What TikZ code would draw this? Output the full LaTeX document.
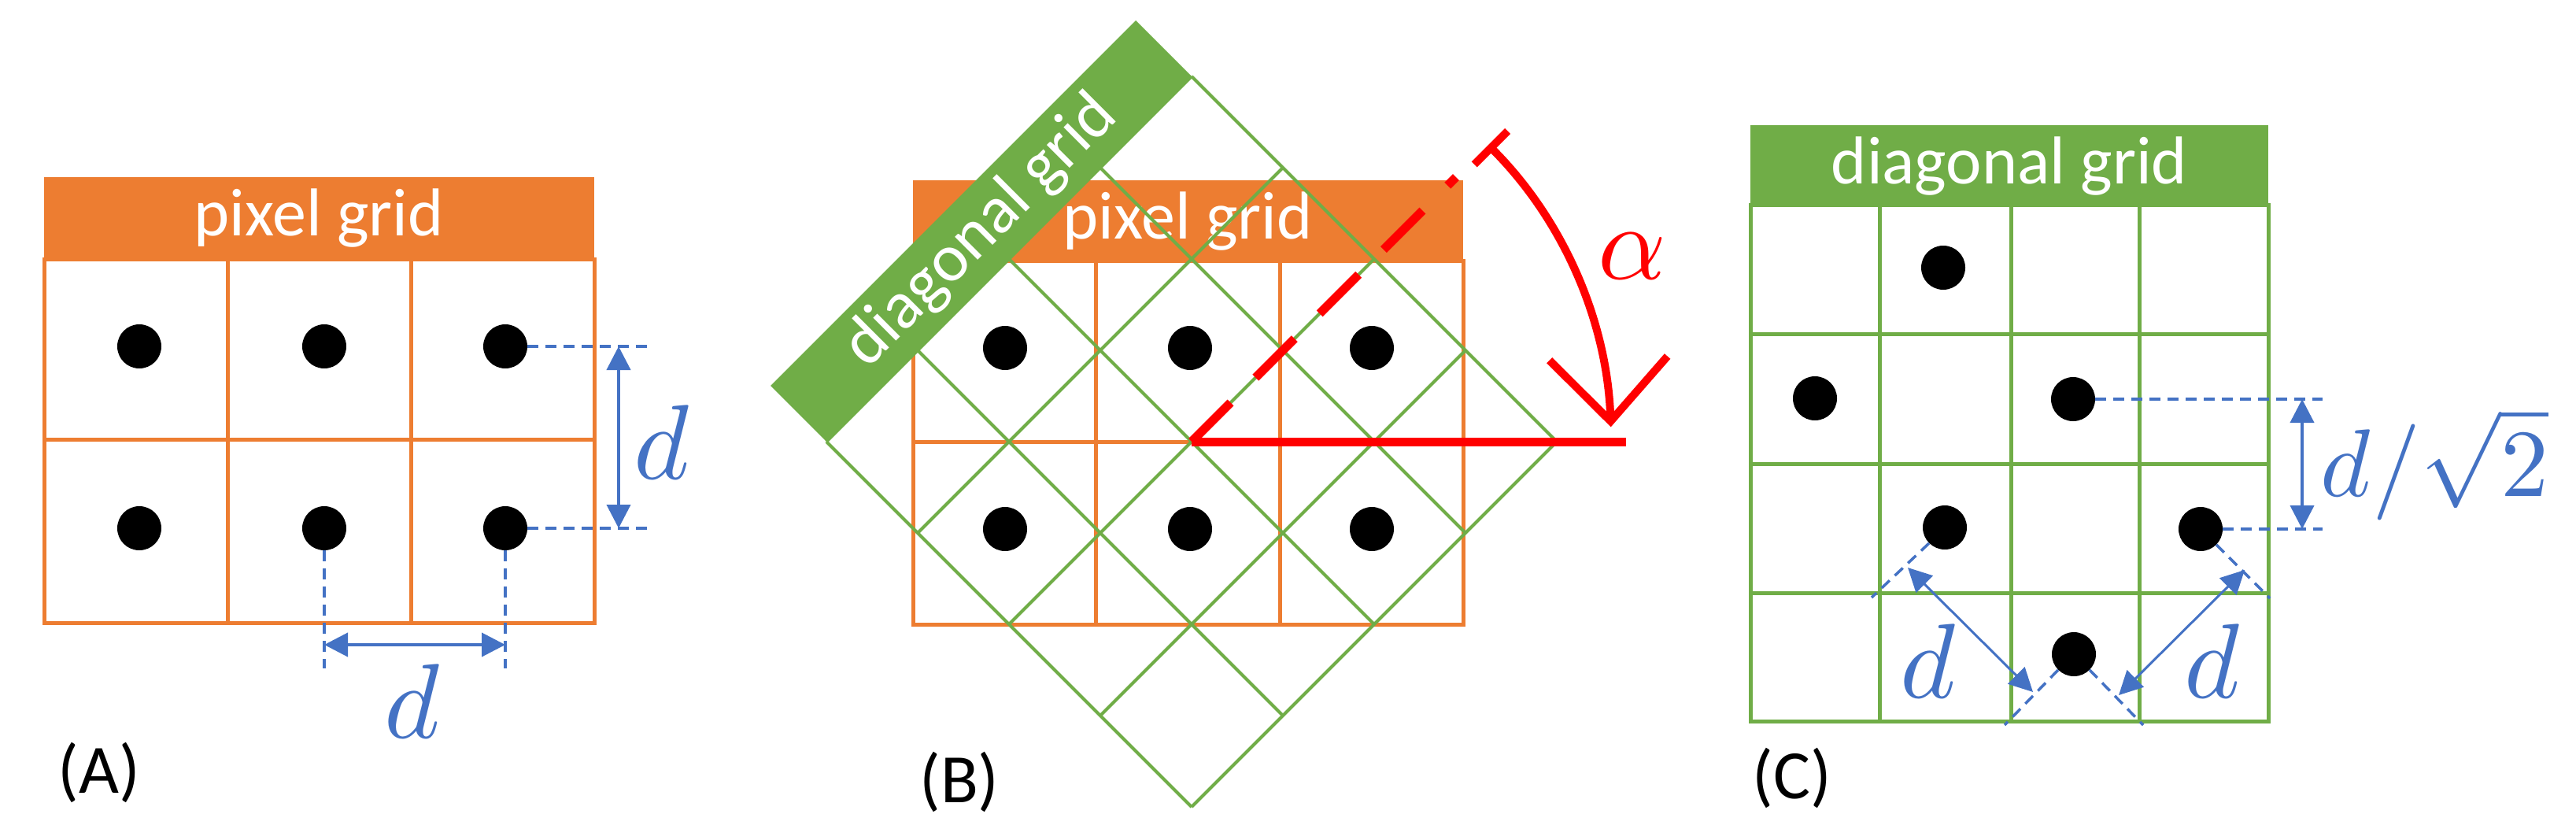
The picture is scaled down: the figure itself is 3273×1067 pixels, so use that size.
\documentclass[tikz,border=0pt]{standalone}
\usepackage{fontspec}
\usepackage{unicode-math}
\setmainfont{Carlito}
\setmathfont{Latin Modern Math}
\usetikzlibrary{arrows.meta,calc}
\definecolor{org}{HTML}{ED7D31}
\definecolor{grn}{HTML}{70AD47}
\definecolor{blu}{HTML}{4472C4}
\definecolor{rd}{HTML}{FF0000}
\begin{document}
\begin{tikzpicture}[x=1pt,y=-1pt,
  dot/.style={circle,fill=black,minimum size=56pt,inner sep=0pt},
  og/.style={draw=org,line width=5pt},
  gg/.style={draw=grn,line width=5pt},
  head/.style={text=white,font=\fontsize{86}{90}\selectfont,inner sep=0pt},
  lab/.style={font=\fontsize{88}{92}\selectfont,inner sep=0pt},
  dim/.style={draw=blu,line width=3.5pt,dash pattern=on 14pt off 9pt},
  darr/.style={draw=blu,line width=4pt,{Triangle[length=30pt,width=30pt]}-{Triangle[length=30pt,width=30pt]}},
  dlab/.style={text=blu,font=\fontsize{135}{140}\selectfont,inner sep=0pt}]
\useasboundingbox (0,0) rectangle (3273,1067);
% ---------- (A)
\fill[org] (56,225) rectangle (755,329);
\node[head] (hA) at (405,277) {pixel grid};
\draw[og] (56,329) rectangle (755,791);
\draw[og] (289,329)--(289,791) (522,329)--(522,791) (56,558)--(755,558);
\foreach \n/\x/\y in {a1/177/440,a2/412/440,a3/642/440,a4/177/671,a5/412/671,a6/642/671}
  \node[dot] (\n) at (\x,\y) {};
\coordinate (ah1) at (822,440); \coordinate (ah2) at (822,671);
\draw[dim] (a3.east)--(ah1); \draw[dim] (a6.east)--(ah2);
\coordinate (av1) at (786,440); \coordinate (av2) at (786,671);
\draw[darr] (av1)--(av2);
\node[dlab] (dA1) at (842,562) {$d$};
\coordinate (aw1) at (412,849); \coordinate (aw2) at (642,849);
\draw[dim] (a5.south)--(aw1); \draw[dim] (a6.south)--(aw2);
\coordinate (ax1) at (412,819); \coordinate (ax2) at (642,819);
\draw[darr] (ax1)--(ax2);
\node[dlab] (dA2) at (525,891) {$d$};
\node[lab] (lA) at (126,981) {(A)};
% ---------- (B)
\fill[org] (1160,229) rectangle (1859,331);
\node[head] (hB) at (1509,281) {pixel grid};
\draw[og] (1160,331) rectangle (1859,793);
\draw[og] (1392,331)--(1392,793) (1626,331)--(1626,793) (1160,561)--(1859,561);
\coordinate (P) at (1514,561);
\def\h{116}
\coordinate (L) at ($(P)+(-4*\h,0)$);
\coordinate (T) at ($(P)+(0,-4*\h)$);
\coordinate (Bt) at ($(P)+(0,4*\h)$);
\fill[grn] (L) -- (T) -- ($(T)+(-71,-71)$) -- ($(L)+(-71,-71)$) -- cycle;
\node[head,rotate=45] (hBd) at ($(L)!0.5!(T)+(-35,-35)$) {diagonal grid};
\foreach \k in {0,...,4}{
  \draw[draw=grn,line width=4pt] ($(L)+(\k*\h,\k*\h)$) -- ($(T)+(\k*\h,\k*\h)$);
  \draw[draw=grn,line width=4pt] ($(L)+(\k*\h,-\k*\h)$) -- ($(Bt)+(\k*\h,-\k*\h)$);
}
\foreach \n/\x/\y in {b1/1277/442,b2/1512/442,b3/1743/442,b4/1277/672,b5/1512/672,b6/1743/672}
  \node[dot] (\n) at (\x,\y) {};
\coordinate (R) at (2066,561);
\draw[rd,line width=11pt] (P)--(R);
\coordinate (Q) at ($(P)+(-45:475)$);
\draw[rd,line width=11pt,dash pattern=on 70pt off 45pt] (P)--(Q);
\draw[rd,line width=10pt,{Bar[width=60pt]}-{Straight Barb[length=80pt,width=150pt,line width=10pt]}]
  ($(P)+(-45:533)$) arc[start angle=-45,end angle=-2,radius=533];
\node[text=rd,font=\fontsize{135}{140}\selectfont,inner sep=0pt] (al) at (2074,325) {$\alpha$};
\node[lab] (lB) at (1219,993) {(B)};
% ---------- (C)
\fill[grn] (2224,159) rectangle (2882,261);
\node[head] (hC) at (2553,211) {diagonal grid};
\draw[gg] (2224,261) rectangle (2882,916);
\draw[gg] (2388,261)--(2388,916) (2555,261)--(2555,916) (2718,261)--(2718,916);
\draw[gg] (2224,424)--(2882,424) (2224,589)--(2882,589) (2224,753)--(2882,753);
\foreach \n/\x/\y in {c1/2469/340,c2/2306/506,c3/2634/507,c4/2471/670,c5/2796/672,c6/2635/831}
  \node[dot] (\n) at (\x,\y) {};
\coordinate (ch1) at (2951,507); \coordinate (ch2) at (2951,672);
\draw[dim] (c3.east)--(ch1); \draw[dim] (c5.east)--(ch2);
\coordinate (cv1) at (2925,507); \coordinate (cv2) at (2925,672);
\draw[darr] (cv1)--(cv2);
\node[dlab,anchor=west,font=\fontsize{122}{126}\selectfont] (dC) at (2948,590) {$d/\sqrt{2}$};
\coordinate (ce1) at (2378,759); \coordinate (ce2) at (2547,921);
\draw[dim] (c4.south west)--(ce1); \draw[dim] (c6.south west)--(ce2);
\coordinate (ce3) at (2884,760); \coordinate (ce4) at (2723,921);
\draw[dim] (c5.south east)--(ce3); \draw[dim] (c6.south east)--(ce4);
\coordinate (cl1) at (2424,721); \coordinate (cl2) at (2583,879);
\draw[darr,line width=3pt] (cl1)--(cl2);
\coordinate (cr1) at (2852,724); \coordinate (cr2) at (2692,883);
\draw[darr,line width=3pt] (cr1)--(cr2);
\node[dlab] (dC1) at (2451,840) {$d$};
\node[dlab] (dC2) at (2812,840) {$d$};
\node[lab] (lC) at (2277,988) {(C)};
\end{tikzpicture}
\end{document}
